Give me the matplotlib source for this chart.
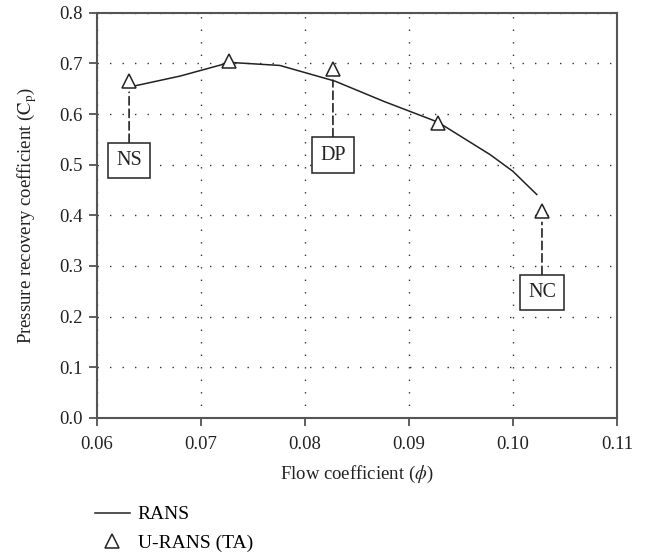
import matplotlib
matplotlib.use('Agg')
import matplotlib.pyplot as plt
from matplotlib.lines import Line2D

plt.rcParams['font.family'] = 'Liberation Serif'
plt.rcParams['mathtext.fontset'] = 'stix'

# RANS curve
rans_x = [0.0635, 0.0680, 0.0728, 0.0776, 0.0829, 0.0876, 0.0928, 0.0978, 0.1000, 0.1023]
rans_y = [0.655, 0.675, 0.702, 0.696, 0.665, 0.625, 0.584, 0.520, 0.487, 0.441]

# U-RANS (TA) points
urans_x = [0.0631, 0.0727, 0.0827, 0.0928, 0.1028]
urans_y = [0.665, 0.704, 0.689, 0.582, 0.408]

# operating point labels
op_labels = ['NS', 'DP', 'NC']
op_x = [0.0631, 0.0827, 0.1028]
op_y = [0.665, 0.689, 0.408]
op_box_y = [0.508, 0.519, 0.247]

xticks = [0.06, 0.07, 0.08, 0.09, 0.10, 0.11]
xticklabels = ['0.06', '0.07', '0.08', '0.09', '0.10', '0.11']
yticks = [0.0, 0.1, 0.2, 0.3, 0.4, 0.5, 0.6, 0.7, 0.8]

fig = plt.figure(figsize=(6.5, 5.57), dpi=100)
ax = fig.add_axes([0.149, 0.250, 0.800, 0.727])

ax.plot(rans_x, rans_y, color='#222222', lw=1.1)
ax.plot(urans_x, urans_y, ls='none', marker='^', ms=10, mfc='white',
        mec='#222222', mew=1.1)

for lab, x, y, yb in zip(op_labels, op_x, op_y, op_box_y):
    ax.annotate(lab, xy=(x, y), xytext=(x, yb), ha='center', va='center',
                fontsize=14.5, color='#222222',
                bbox=dict(boxstyle='square,pad=0.4', fc='white', ec='#222222', lw=1.1),
                arrowprops=dict(arrowstyle='-', ls=(0, (5, 2.5)), color='#222222',
                                lw=1.2, shrinkA=0, shrinkB=8))

ax.set_xlim(0.06, 0.11)
ax.set_ylim(0.0, 0.8)
ax.set_xticks(xticks)
ax.set_xticklabels(xticklabels)
ax.set_yticks(yticks)
ax.tick_params(direction='out', length=6, width=1.2, color='#444444',
               labelsize=13.5, labelcolor='#222222')
ax.tick_params(axis='x', pad=7)
ax.tick_params(axis='y', pad=4)
ax.grid(True, ls=(0, (1, 8)), color='#333333', lw=1.0)
for s in ax.spines.values():
    s.set_color('#555555')
    s.set_linewidth(1.5)

ax.set_xlabel(r'Flow coefficient ($\phi$)', fontsize=13.5, color='#222222', labelpad=8)
ax.set_ylabel(r'Pressure recovery coefficient ($\mathrm{C_p}$)', fontsize=13.5,
              color='#222222', labelpad=15)

handles = [Line2D([], [], color='#222222', lw=1.1),
           Line2D([], [], ls='none', marker='^', ms=10, mfc='white', mec='#222222', mew=1.1)]
fig.legend(handles, ['RANS', 'U-RANS (TA)'], loc='upper left',
           bbox_to_anchor=(0.146, 0.092), frameon=False, fontsize=14,
           borderaxespad=0, borderpad=0,
           handlelength=1.8, handletextpad=0.4, labelspacing=0.55)

fig.savefig('out.png', dpi=100)
